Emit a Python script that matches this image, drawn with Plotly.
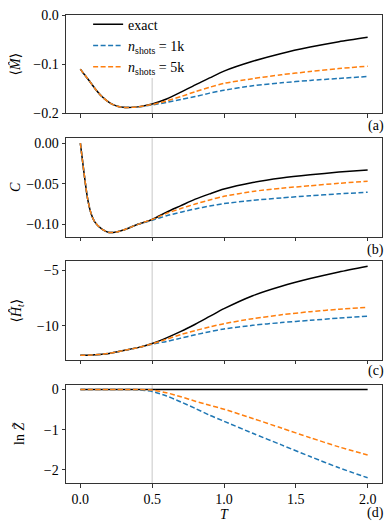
import plotly.graph_objects as go
from plotly.subplots import make_subplots

# -------------------- data --------------------
T = [0, 0.025, 0.05, 0.075, 0.1, 0.15, 0.2, 0.25, 0.3, 0.4, 0.5,
     0.6, 0.7, 0.8, 0.9, 1.0, 1.2, 1.4, 1.6, 1.8, 2.0]

# (a) <M>
M_exact = [-0.110, -0.120, -0.129, -0.139, -0.149, -0.166, -0.178, -0.185, -0.188, -0.187, -0.181,
           -0.171, -0.157, -0.142, -0.128, -0.114, -0.094, -0.078, -0.065, -0.054, -0.045]
M_1k = [-0.110, -0.120, -0.129, -0.139, -0.149, -0.166, -0.178, -0.185, -0.188, -0.187, -0.183,
        -0.178, -0.172, -0.166, -0.159, -0.153, -0.144, -0.138, -0.133, -0.129, -0.125]
M_5k = [-0.110, -0.120, -0.129, -0.139, -0.149, -0.166, -0.178, -0.185, -0.188, -0.187, -0.182,
        -0.175, -0.166, -0.156, -0.147, -0.139, -0.1295, -0.1215, -0.115, -0.109, -0.104]

# (b) C
C_exact = [0.000, -0.036, -0.068, -0.087, -0.097, -0.106, -0.110, -0.1095, -0.107, -0.100, -0.094,
           -0.085, -0.077, -0.069, -0.0625, -0.0565, -0.0485, -0.043, -0.039, -0.0357, -0.033]
C_1k = [0.000, -0.036, -0.068, -0.087, -0.097, -0.106, -0.110, -0.1095, -0.107, -0.100, -0.095,
        -0.0895, -0.085, -0.081, -0.0775, -0.0745, -0.0705, -0.0675, -0.0648, -0.0625, -0.0605]
C_5k = [0.000, -0.036, -0.068, -0.087, -0.097, -0.106, -0.110, -0.1095, -0.107, -0.100, -0.094,
        -0.0865, -0.0805, -0.075, -0.070, -0.0655, -0.0595, -0.0555, -0.0525, -0.0495, -0.047]

# (c) <H_t>
H_exact = [-12.65, -12.645, -12.64, -12.63, -12.61, -12.56, -12.48, -12.36, -12.22, -11.96, -11.58,
           -11.08, -10.5, -9.85, -9.15, -8.45, -7.28, -6.43, -5.74, -5.14, -4.62]
H_1k = [-12.65, -12.645, -12.64, -12.63, -12.61, -12.56, -12.48, -12.36, -12.22, -11.96, -11.65,
        -11.4, -11.1, -10.8, -10.52, -10.28, -9.95, -9.7, -9.5, -9.3, -9.13]
H_5k = [-12.65, -12.645, -12.64, -12.63, -12.61, -12.56, -12.48, -12.36, -12.22, -11.96, -11.62,
        -11.2, -10.78, -10.42, -10.1, -9.8, -9.35, -9.0, -8.72, -8.5, -8.33]

# (d) ln Z
Z_exact = [0, 0, 0, 0, 0, 0, 0, 0, 0, 0, 0,
           0, 0, 0, 0, 0, 0, 0, 0, 0, 0]
Z_1k = [0, 0, 0, 0, 0, 0, 0, 0, 0, -0.005, -0.05,
        -0.16, -0.31, -0.47, -0.64, -0.79, -1.09, -1.38, -1.67, -1.95, -2.2]
Z_5k = [0, 0, 0, 0, 0, 0, 0, 0, 0, 0, -0.01,
        -0.08, -0.18, -0.29, -0.39, -0.49, -0.72, -0.96, -1.2, -1.43, -1.63]

panels = [
    (M_exact, M_1k, M_5k, "\u27e8<i>M\u0302</i>\u27e9", [-0.2, 0.0003], 0.1, ".1f", "(a)"),
    (C_exact, C_1k, C_5k, "<i>C</i>", [-0.115, 0.006], 0.05, ".2f", "(b)"),
    (H_exact, H_1k, H_5k, "\u27e8<i>H\u0302</i><sub><i>t</i></sub>\u27e9", [-13.05, -4.2], 5, "d", "(c)"),
    (Z_exact, Z_1k, Z_5k, "ln <i>Z\u0303</i>", [-2.33, 0.12], 1, "d", "(d)"),
]

BLUE, ORANGE = "#1f77b4", "#ff7f0e"
FONT = "Liberation Serif, DejaVu Serif, serif"

fig = make_subplots(rows=4, cols=1, shared_xaxes=True, vertical_spacing=0.0534)

label_y = [0.7628, 0.4979, 0.2393, -0.0641]
for i, (ex, k1, k5, ylab, yr, dt, fmt, tag) in enumerate(panels):
    r = i + 1
    first = (i == 0)
    fig.add_trace(go.Scatter(x=T, y=ex, mode="lines", name="exact", showlegend=first,
                             line=dict(color="black", width=1.5, shape="spline", smoothing=0.7)),
                  row=r, col=1)
    fig.add_trace(go.Scatter(x=T, y=k1, mode="lines", name="<i>n</i><sub>shots</sub> = 1k", showlegend=first,
                             line=dict(color=BLUE, width=1.5, dash="5px,2.5px", shape="spline", smoothing=0.7)),
                  row=r, col=1)
    fig.add_trace(go.Scatter(x=T, y=k5, mode="lines", name="<i>n</i><sub>shots</sub> = 5k", showlegend=first,
                             line=dict(color=ORANGE, width=1.5, dash="5px,2.5px", shape="spline", smoothing=0.7)),
                  row=r, col=1)
    # grey marker line at T = 0.5 (in the top panel it stops under the legend)
    if first:
        fig.add_shape(type="line", x0=0.5, x1=0.5, y0=0, y1=0.36, xref="x", yref="y domain",
                      line=dict(color="#d4d4d4", width=1.3), layer="below")
    else:
        fig.add_vline(x=0.5, line=dict(color="#d4d4d4", width=1.3), layer="below", row=r, col=1)
    fig.update_yaxes(range=yr, dtick=dt, tick0=0, tickformat=fmt, title_text=ylab, row=r, col=1)
    fig.add_annotation(text=tag, xref="paper", yref="paper", x=0.981, y=label_y[i],
                       xanchor="center", yanchor="middle", showarrow=False,
                       font=dict(family=FONT, size=14, color="black"))

axis_style = dict(showline=True, linecolor="#333", linewidth=1, mirror=True,
                  ticks="outside", ticklen=3.5, tickwidth=0.8, tickcolor="#333",
                  showgrid=False, zeroline=False, ticklabeloverflow="allow",
                  tickfont=dict(family=FONT, size=14, color="black"),
                  title_font=dict(family=FONT, size=14, color="black"))
fig.update_xaxes(range=[-0.1, 2.1], dtick=0.5, tickformat=".1f", **axis_style)
fig.update_yaxes(**axis_style)
fig.update_xaxes(title_text="<i>T</i>", title_standoff=0, row=4, col=1)

# page body has an 8px margin, so the figure is 8px smaller and shifted accordingly
fig.update_layout(
    width=384, height=516,
    margin=dict(l=58, r=10, t=7, b=41, autoexpand=False),
    plot_bgcolor="white", paper_bgcolor="white",
    font=dict(family=FONT, size=14, color="black"),
    legend=dict(x=0.07, y=1.0135, xanchor="left", yanchor="top",
                bgcolor="rgba(0,0,0,0)", borderwidth=0,
                font=dict(family=FONT, size=14, color="black"),
                tracegroupgap=0),
)

fig.write_html("out.html")
